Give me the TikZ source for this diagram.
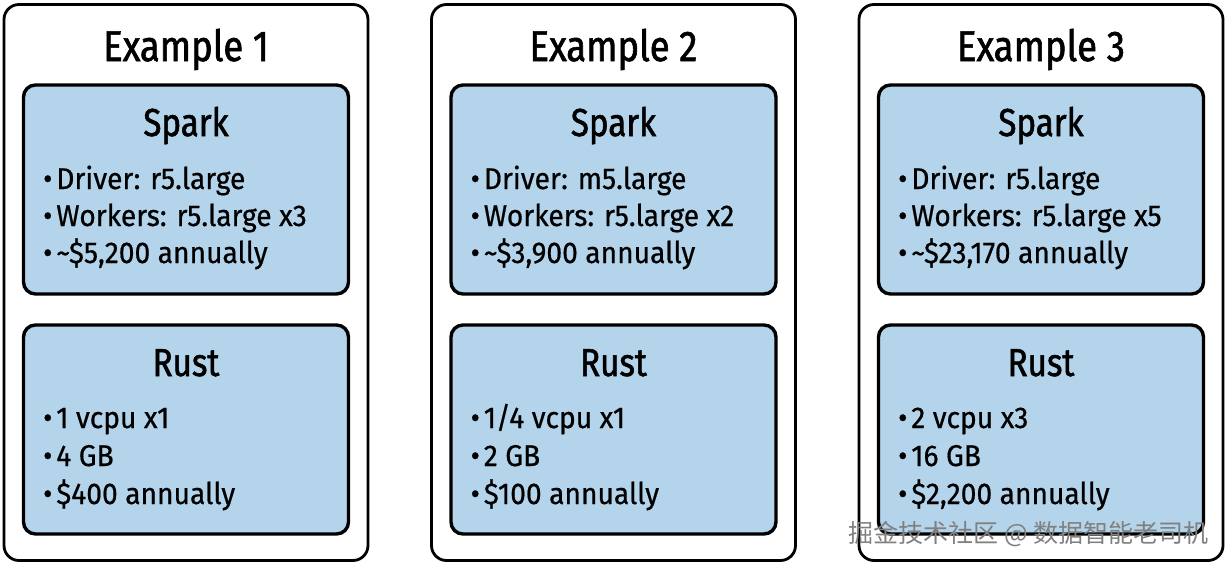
\documentclass[tikz,border=0pt]{standalone}
\usepackage{fontspec}
\setmainfont{Fira Sans}[FakeBold=0.6]
\newfontfamily\titlefont{Fira Sans}[FakeStretch=0.85, FakeBold=1.4]
\newfontfamily\itemfont{Fira Sans}[FakeStretch=0.94, FakeBold=0.6]
\newfontfamily\cjkwm{Noto Sans CJK SC}
\definecolor{boxblue}{RGB}{179,212,234}
\tikzset{
  outerbox/.style={draw=black, line width=2.8pt, rounded corners=15pt, fill=white, inner sep=0pt, minimum width=364pt, minimum height=556pt},
  innerbox/.style={draw=black, line width=3.4pt, rounded corners=12pt, fill=boxblue, inner sep=0pt, minimum width=325pt, minimum height=209pt},
  titletext/.style={font=\titlefont\fontsize{43}{43}\selectfont, anchor=base, inner sep=0pt},
  headtext/.style={font=\titlefont\fontsize{39}{39}\selectfont, anchor=base, inner sep=0pt},
  itemtext/.style={font=\itemfont\fontsize{30}{30}\selectfont, anchor=base west, inner sep=0pt},
  watermark/.style={font=\cjkwm\fontsize{25}{25}\selectfont, text=black!50, anchor=base east, inner sep=0pt}
}
\newcommand\examplecol[8]{%
  \node[outerbox] (outer#2) at (#1,282.5) {};
  \node[titletext] (title#2) at (#1,61) {Example #2};
  \node[innerbox] (spark#2) at (#1,189.5) {};
  \node[headtext] (sparkhead#2) at (#1,136) {Spark};
  \node[itemtext] (sparka#2) at (#1-143,189) {•\hspace{4pt}#3};
  \node[itemtext] (sparkb#2) at (#1-143,226) {•\hspace{4pt}#4};
  \node[itemtext] (sparkc#2) at (#1-143,263) {•\hspace{4pt}#5};
  \node[innerbox] (rust#2) at (#1,429.5) {};
  \node[headtext] (rusthead#2) at (#1,376) {Rust};
  \node[itemtext] (rusta#2) at (#1-143,428) {•\hspace{4pt}#6};
  \node[itemtext] (rustb#2) at (#1-143,466) {•\hspace{4pt}#7};
  \node[itemtext] (rustc#2) at (#1-143,504) {•\hspace{4pt}#8};
}
\begin{document}
\begin{tikzpicture}[x=1pt,y=-1pt]
\useasboundingbox (0,0) rectangle (1227,565);
\examplecol{186}{1}{Driver: r5.large}{Workers: r5.large x3}{\textasciitilde\$5,200 annually}{1 vcpu x1}{4 GB}{\$400 annually}
\examplecol{613.5}{2}{Driver: m5.large}{Workers: r5.large x2}{\textasciitilde\$3,900 annually}{1/4 vcpu x1}{2 GB}{\$100 annually}
\examplecol{1041}{3}{Driver: r5.large}{Workers: r5.large x5}{\textasciitilde\$23,170 annually}{2 vcpu x3}{16 GB}{\$2,200 annually}
\node[watermark] (wm) at (1209,542) {掘金技术社区 @ 数据智能老司机};
\end{tikzpicture}
\end{document}
